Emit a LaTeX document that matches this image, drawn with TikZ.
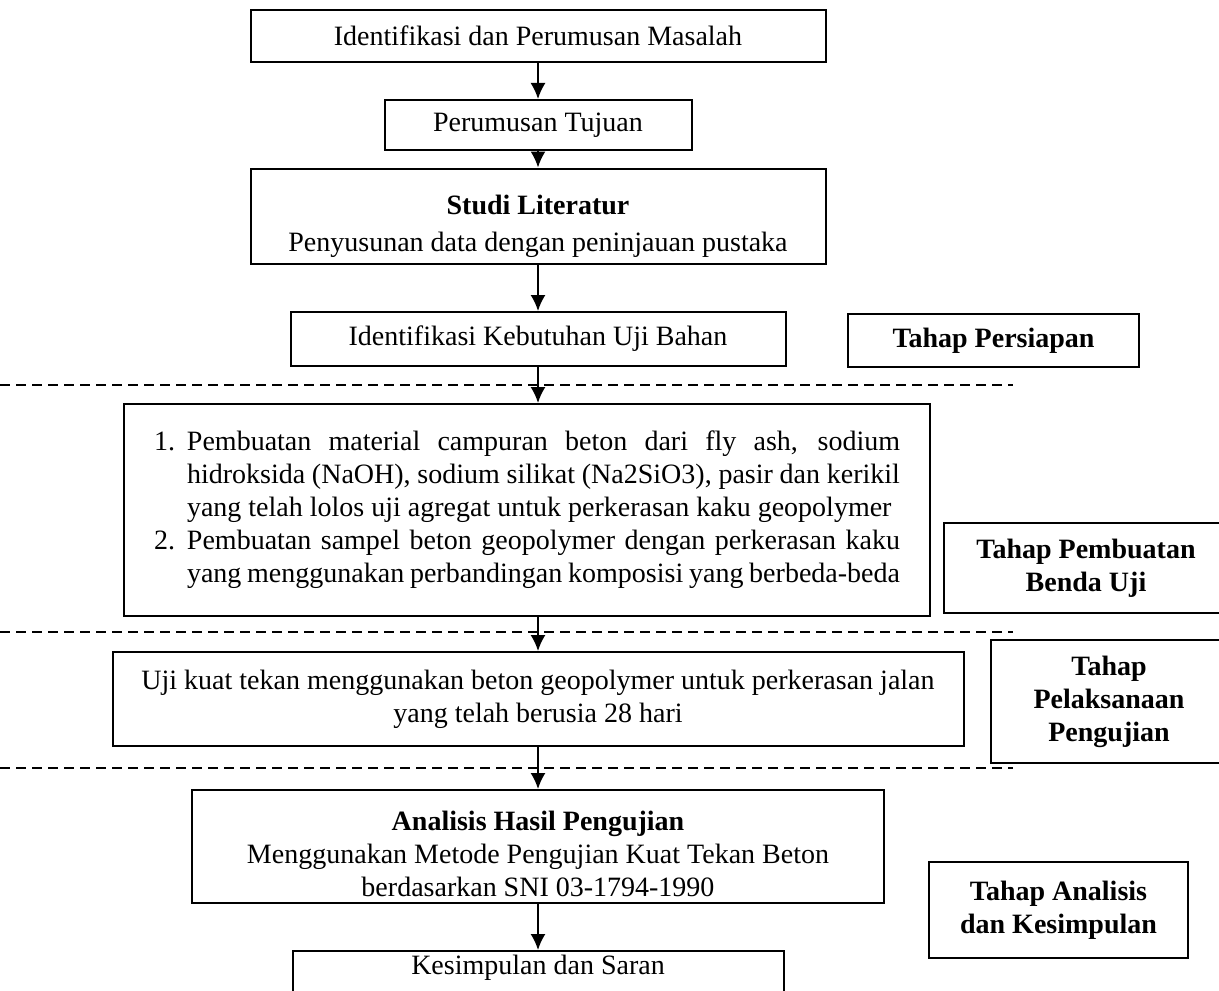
\documentclass[tikz,border=0pt]{standalone}
\usepackage{fontspec}
\setmainfont{Liberation Serif}
\usetikzlibrary{arrows.meta}

\begin{document}
\begin{tikzpicture}[x=0.5pt,y=-0.5pt,
  kotak/.style={draw,line width=1pt,align=center,inner sep=2pt,
    font=\fontsize{14}{16.5}\selectfont},
  tahap/.style={kotak,font=\fontsize{14}{16.5}\selectfont\bfseries},
  panah/.style={-{Latex[length=8pt,width=7.5pt]},line width=0.9pt},
  garis/.style={dash pattern=on 5pt off 3pt,line width=1.4pt}]
\useasboundingbox (0,0) rectangle (1219,990);

\node[kotak,minimum width=287.5pt,minimum height=26pt] (masalah) at (538,36) {Identifikasi dan Perumusan Masalah};
\node[kotak,minimum width=153.5pt,minimum height=25pt] (tujuan) at (538,125) {Perumusan Tujuan};
\node[kotak,minimum width=287.5pt,minimum height=47.5pt] (literatur) at (538,216) {\rule{0pt}{20pt}\textbf{Studi Literatur}\\[2pt]Penyusunan data dengan peninjauan pustaka};
\node[kotak,minimum width=247.5pt,minimum height=27pt] (kebutuhan) at (538,339) {Identifikasi Kebutuhan Uji Bahan};
\node[tahap,minimum width=145.5pt,minimum height=26.5pt] (persiapan) at (993.5,340.5) {Tahap Persiapan};

\node[kotak,minimum width=403pt,minimum height=106pt,text width=373pt,align=justify] (pembuatan) at (527,510) {%
\hangindent=16.5pt\hangafter=1\noindent\makebox[16.5pt][l]{1.}Pembuatan material campuran beton dari fly ash, sodium\linebreak
hidroksida (NaOH), sodium silikat (Na2SiO3), pasir dan kerikil\linebreak
yang telah lolos uji agregat untuk perkerasan kaku geopolymer\par
\hangindent=16.5pt\hangafter=1\noindent\makebox[16.5pt][l]{2.}Pembuatan sampel beton geopolymer dengan perkerasan kaku\linebreak
yang menggunakan perbandingan komposisi yang berbeda-beda\par};
\node[tahap,minimum width=142pt,minimum height=45pt] (benda) at (1086,568) {Tahap Pembuatan\\Benda Uji};

\node[kotak,minimum width=425.5pt,minimum height=47pt] (ujikuat) at (538,699) {Uji kuat tekan menggunakan beton geopolymer untuk perkerasan jalan\\yang telah berusia 28 hari};
\node[tahap,minimum width=118pt,minimum height=61.5pt] (pelaksanaan) at (1109,701.5) {Tahap\\Pelaksanaan\\Pengujian};

\node[kotak,minimum width=346pt,minimum height=56.5pt] (analisis) at (538,846.5) {\rule{0pt}{17pt}\textbf{Analisis Hasil Pengujian}\\Menggunakan Metode Pengujian Kuat Tekan Beton\\berdasarkan SNI 03-1794-1990};
\node[tahap,minimum width=129.5pt,minimum height=48pt] (tahapanalisis) at (1058.5,910) {Tahap Analisis\\dan Kesimpulan};
\node[kotak,anchor=north,minimum width=245.5pt,text depth=14pt] (saran) at (538,950) {Kesimpulan dan Saran};

\draw[garis] (0,385) -- (1013,385);
\draw[garis] (0,632) -- (1013,632);
\draw[garis] (0,768) -- (1013,768);

\draw[panah] (masalah) -- (tujuan);
\draw[panah] (tujuan) -- (literatur);
\draw[panah] (literatur) -- (kebutuhan);
\draw[panah] (kebutuhan.south) -- (kebutuhan.south |- pembuatan.north);
\draw[panah] (ujikuat.north |- pembuatan.south) -- (ujikuat.north);
\draw[panah] (ujikuat) -- (analisis);
\draw[panah] (analisis) -- (saran);
\end{tikzpicture}
\end{document}
